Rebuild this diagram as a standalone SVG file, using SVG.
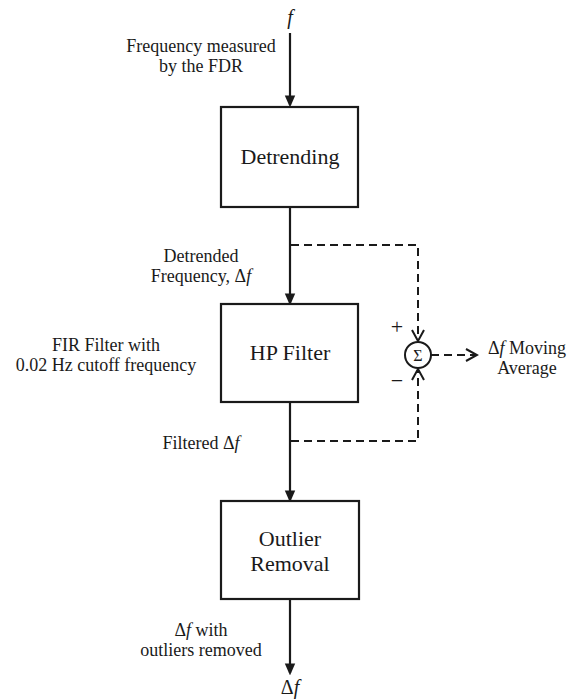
<svg xmlns="http://www.w3.org/2000/svg" width="573" height="699" viewBox="0 0 573 699">
<style>
text{font-family:"Liberation Serif","DejaVu Serif",serif;fill:#1a1a1a}
.lbl{font-size:18px;text-anchor:middle}
.box{font-size:22px;text-anchor:middle}
.it{font-style:italic}
.node rect{fill:#fff;stroke:#1a1a1a;stroke-width:2.2}
.solid{stroke:#1a1a1a;stroke-width:2.2;fill:none}
.dash{stroke:#1a1a1a;stroke-width:2;fill:none;stroke-dasharray:8 5}
</style>
<defs>
<marker id="ah" markerWidth="12" markerHeight="15" refX="12" refY="6.5" orient="auto" markerUnits="userSpaceOnUse" viewBox="0 0 15 13">
<path d="M0,0 L15,6.5 L0,13 Z" fill="#1a1a1a"/>
</marker>
<marker id="oh" markerWidth="14" markerHeight="14" refX="12" refY="7" orient="auto" markerUnits="userSpaceOnUse" viewBox="0 0 14 14">
<path d="M1,1 L12,7 L1,13" fill="none" stroke="#1a1a1a" stroke-width="2"/>
</marker>
</defs>
<g id="connectors">
<line class="solid" x1="290" y1="33" x2="290" y2="105" marker-end="url(#ah)"/>
<line class="solid" x1="290" y1="207" x2="290" y2="303" marker-end="url(#ah)"/>
<line class="solid" x1="290" y1="402" x2="290" y2="500" marker-end="url(#ah)"/>
<line class="solid" x1="290" y1="599" x2="290" y2="673" marker-end="url(#ah)"/>
<path class="dash" d="M291,245 H418 V341" marker-end="url(#oh)"/>
<path class="dash" d="M291,441 H418 V369" marker-end="url(#oh)"/>
<path class="dash" d="M431,355 H477" marker-end="url(#oh)"/>
</g>
<g id="in-label">
<text x="290" y="24" class="lbl it" style="font-size:20px">f</text>
<text x="201" y="52" class="lbl">Frequency measured</text>
<text x="201" y="72" class="lbl">by the FDR</text>
</g>
<g id="detrending" class="node">
<rect x="221" y="107" width="137" height="100"/>
<text x="290" y="164" class="box">Detrending</text>
</g>
<g id="detrended-label">
<text x="201" y="262" class="lbl">Detrended</text>
<text x="201" y="282" class="lbl">Frequency, Δ<tspan class="it">f</tspan></text>
</g>
<g id="fir-label">
<text x="106" y="351" class="lbl">FIR Filter with</text>
<text x="106" y="371" class="lbl">0.02 Hz cutoff frequency</text>
</g>
<g id="hp-filter" class="node">
<rect x="221" y="304" width="137" height="98"/>
<text x="290" y="360" class="box">HP Filter</text>
</g>
<g id="sum" class="node">
<circle cx="418" cy="355" r="13" fill="#fff" stroke="#1a1a1a" stroke-width="2"/>
<text x="418" y="361" style="font-size:16px;text-anchor:middle">Σ</text>
<text x="397" y="334" style="font-size:22px;text-anchor:middle">+</text>
<text x="397" y="388" style="font-size:22px;text-anchor:middle">−</text>
</g>
<g id="ma-label">
<text x="527" y="354" class="lbl">Δ<tspan class="it">f</tspan> Moving</text>
<text x="527" y="374" class="lbl">Average</text>
</g>
<g id="filtered-label">
<text x="201" y="449" class="lbl">Filtered Δ<tspan class="it">f</tspan></text>
</g>
<g id="outlier" class="node">
<rect x="221" y="501" width="138" height="98"/>
<text x="290" y="546" class="box">Outlier</text>
<text x="290" y="571" class="box">Removal</text>
</g>
<g id="out-label">
<text x="201" y="636" class="lbl">Δ<tspan class="it">f</tspan> with</text>
<text x="201" y="656" class="lbl">outliers removed</text>
<text x="290" y="694" class="lbl" style="font-size:20px">Δ<tspan class="it">f</tspan></text>
</g>
</svg>
